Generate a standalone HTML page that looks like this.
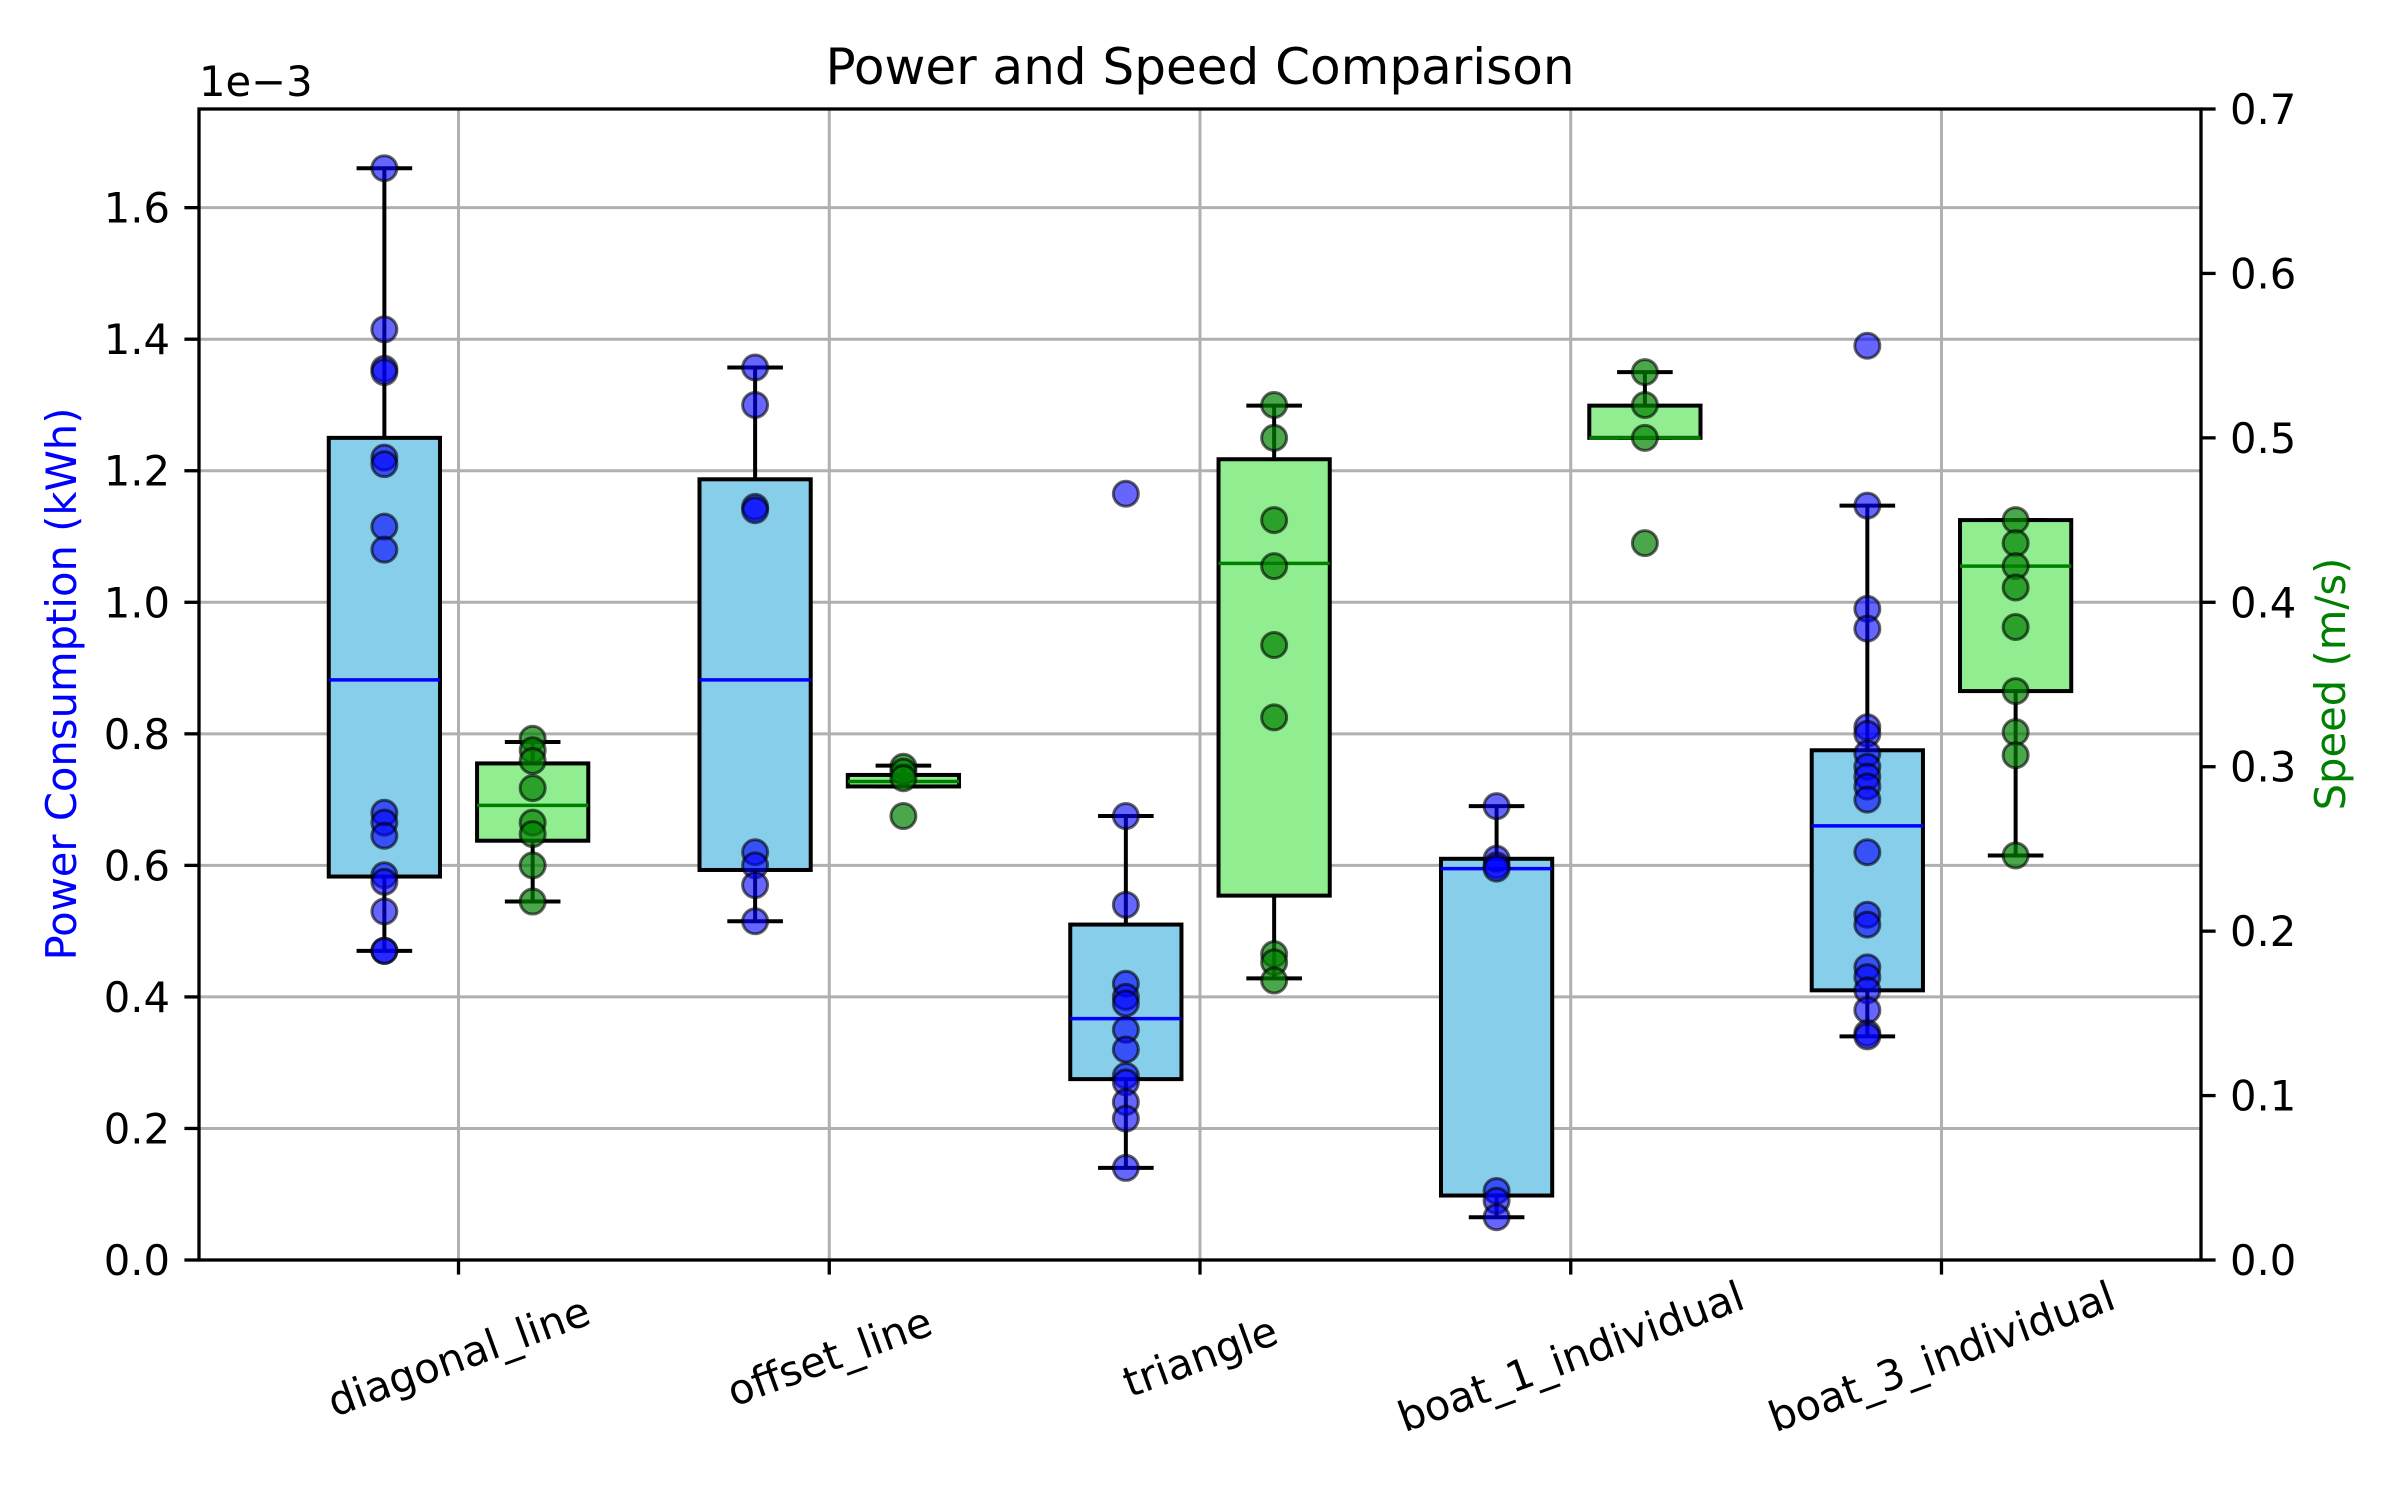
<!DOCTYPE html>
<html><head><meta charset="utf-8"><style>
html,body{margin:0;padding:0;background:#fff}
svg{display:block;font-family:"DejaVu Sans","Liberation Sans",sans-serif}
</style></head><body>
<svg id="chart" width="2400" height="1500" viewBox="0 0 2400 1500" xmlns="http://www.w3.org/2000/svg"></svg>
<script>
const categories = ["diagonal_line","offset_line","triangle","boat_1_individual","boat_3_individual"];
// Power (x1e-3 kWh): [whiskerLow, q1, median, q3, whiskerHigh]
const powerBoxes = [
  [0.47,0.583,0.882,1.25,1.66],
  [0.515,0.593,0.882,1.187,1.357],
  [0.14,0.275,0.367,0.51,0.675],
  [0.065,0.098,0.595,0.61,0.69],
  [0.34,0.41,0.66,0.775,1.147]
];
const powerPoints = [
  [1.66,1.415,1.355,1.35,1.22,1.21,1.115,1.08,0.68,0.665,0.645,0.585,0.575,0.53,0.47,0.47],
  [1.357,1.30,1.145,1.14,0.62,0.60,0.57,0.515],
  [1.165,0.675,0.54,0.42,0.40,0.39,0.35,0.32,0.28,0.27,0.24,0.215,0.14],
  [0.69,0.61,0.60,0.595,0.105,0.09,0.065],
  [1.39,1.147,0.99,0.96,0.81,0.80,0.77,0.75,0.735,0.72,0.70,0.62,0.525,0.51,0.445,0.43,0.41,0.38,0.345,0.34]
];
// Speed (m/s)
const speedBoxes = [
  [0.218,0.255,0.2765,0.302,0.315],
  [0.288,0.288,0.291,0.295,0.3007],
  [0.1713,0.2216,0.4237,0.487,0.5196],
  [0.5,0.5,0.5,0.5196,0.54],
  [0.246,0.346,0.422,0.45,0.45]
];
const speedPoints = [
  [0.317,0.31,0.3035,0.287,0.266,0.259,0.24,0.218],
  [0.3,0.297,0.293,0.27],
  [0.52,0.5,0.45,0.422,0.374,0.33,0.186,0.181,0.17],
  [0.54,0.52,0.5,0.436],
  [0.45,0.436,0.422,0.409,0.385,0.346,0.321,0.307,0.246]
];
const powerTicks = [0.0,0.2,0.4,0.6,0.8,1.0,1.2,1.4,1.6];
const speedTicks = [0.0,0.1,0.2,0.3,0.4,0.5,0.6,0.7];

const L=199,R=2201,T=109,B=1260;
const xs = i => L + (i+0.7)/5.4*(R-L);
const yP = v => B - v/1.75*(B-T);
const yS = v => B - v/0.7*(B-T);
const unit=(R-L)/5.4;
const svg=document.getElementById('chart');
const NS="http://www.w3.org/2000/svg";
function mk(tag,attrs,parent){const e=document.createElementNS(NS,tag);for(const k in attrs)e.setAttribute(k,attrs[k]);(parent||svg).appendChild(e);return e;}

categories.forEach((c,i)=>{const g=mk('line',{x1:xs(i),x2:xs(i),y1:T,y2:B,stroke:'#b0b0b0','stroke-width':3});

});
powerTicks.forEach(v=>{const g=mk('line',{x1:L,x2:R,y1:yP(v),y2:yP(v),stroke:'#b0b0b0','stroke-width':3});

});

function drawBox(i,box,pts,off,ys,fill,medColor,ptFill,ptOpacity,kind){
  const cx=xs(i)+off*unit, w=0.3*unit, cw=0.15*unit;
  const g=mk('g',{});
  
  
  mk('line',{x1:cx,x2:cx,y1:ys(box[0]),y2:ys(box[1]),stroke:'#000','stroke-width':4},g);
  mk('line',{x1:cx,x2:cx,y1:ys(box[3]),y2:ys(box[4]),stroke:'#000','stroke-width':4},g);
  mk('line',{x1:cx-cw/2,x2:cx+cw/2,y1:ys(box[0]),y2:ys(box[0]),stroke:'#000','stroke-width':4},g);
  mk('line',{x1:cx-cw/2,x2:cx+cw/2,y1:ys(box[4]),y2:ys(box[4]),stroke:'#000','stroke-width':4},g);
  mk('rect',{x:cx-w/2,y:ys(box[3]),width:w,height:Math.max(ys(box[1])-ys(box[3]),0),fill:fill,stroke:'#000','stroke-width':4},g);
  mk('line',{x1:cx-w/2,x2:cx+w/2,y1:ys(box[2]),y2:ys(box[2]),stroke:medColor,'stroke-width':3.5},g);
  pts.forEach(v=>{const c=mk('circle',{cx:cx,cy:ys(v),r:12.5,fill:ptFill,'fill-opacity':ptOpacity,stroke:'#000','stroke-opacity':0.6,'stroke-width':3},g);
  
  });
}
categories.forEach((c,i)=>{
  drawBox(i,powerBoxes[i],powerPoints[i],-0.2,yP,'#87ceeb','#0000ff','#0000ff',0.6,'power');
  drawBox(i,speedBoxes[i],speedPoints[i],0.2,yS,'#90ee90','#008000','#008000',0.7,'speed');
});

const fr=mk('rect',{x:L,y:T,width:R-L,height:B-T,fill:'none',stroke:'#000','stroke-width':3.3});



powerTicks.forEach(v=>{
  mk('line',{x1:L-14.6,x2:L,y1:yP(v),y2:yP(v),stroke:'#000','stroke-width':3.3});
  const t=mk('text',{x:L-29,y:yP(v)+15,'font-size':41.7,'text-anchor':'end',fill:'#000'});
  t.textContent=v.toFixed(1);
  
  
});
speedTicks.forEach(v=>{
  mk('line',{x1:R,x2:R+14.6,y1:yS(v),y2:yS(v),stroke:'#000','stroke-width':3.3});
  const t=mk('text',{x:R+29,y:yS(v)+15,'font-size':41.7,'text-anchor':'start',fill:'#000'});
  t.textContent=v.toFixed(1);
  
  
});
categories.forEach((c,i)=>{
  mk('line',{x1:xs(i),x2:xs(i),y1:B,y2:B+14.6,stroke:'#000','stroke-width':3.3});
  const cy=1356;
  const t=mk('text',{x:xs(i),y:cy+15,'font-size':41.7,'text-anchor':'middle',fill:'#000',transform:`rotate(-20 ${xs(i)} ${cy})`});
  t.textContent=c;
  
  
});
</script>
<svg style="position:absolute;left:0;top:0" width="2400" height="1500" xmlns="http://www.w3.org/2000/svg" font-family="DejaVu Sans, Liberation Sans, sans-serif">
<text x="1200" y="84" font-size="50" text-anchor="middle">Power and Speed Comparison</text>
<text x="199" y="96" font-size="41.7">1e−3</text>
<text transform="translate(76 684) rotate(-90)" font-size="41.7" text-anchor="middle" fill="#0000ff">Power Consumption (kWh)</text>
<text transform="translate(2345 684) rotate(-90)" font-size="41.7" text-anchor="middle" fill="#008000">Speed (m/s)</text>
</svg>
</body></html>
